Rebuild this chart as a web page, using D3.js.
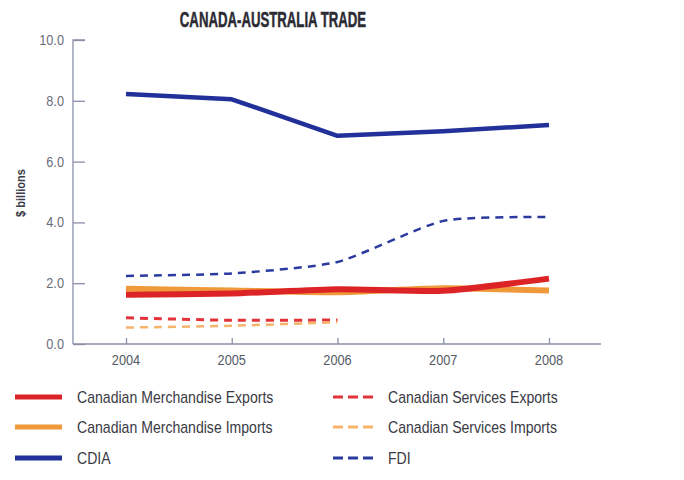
<!DOCTYPE html>
<html><head><meta charset="utf-8">
<script src="https://cdn.jsdelivr.net/npm/d3@7"></script>
<style>body{margin:0;background:#fff}svg{display:block}</style>
</head><body>
<svg id="c" width="684" height="480"></svg>
<script>
const years = [2004, 2005, 2006, 2007, 2008];
const yTicks = [0, 2, 4, 6, 8, 10];
const merchExports = [1.62, 1.66, 1.8, 1.75, 2.15];
const merchImports = [1.82, 1.76, 1.7, 1.83, 1.76];
const cdia = [8.22, 8.05, 6.85, 7.0, 7.2];
const servExports = [0.86, 0.78, 0.79];
const servImports = [0.54, 0.6, 0.72];
const fdi = [2.24, 2.32, 2.7, 4.05, 4.18];

const series = [
  {name:"Canadian Merchandise Exports", values: merchExports, color:"#dc2427", w:6, dash:null},
  {name:"Canadian Merchandise Imports", values: merchImports, color:"#f0993a", w:6, dash:null},
  {name:"CDIA", values: cdia, color:"#22309a", w:4.5, dash:null, linear:true},
  {name:"Canadian Services Exports", values: servExports, color:"#e2333a", w:3, dash:"8,6"},
  {name:"Canadian Services Imports", values: servImports, color:"#f6b36a", w:2.5, dash:"8,6"},
  {name:"FDI", values: fdi, color:"#2a3a9e", w:2.5, dash:"8,6"}
];
const drawOrder = [5, 3, 4, 1, 0, 2];

const svg = d3.select("#c");
const x = d3.scaleLinear().domain([2004, 2008]).range([126, 549]);
const y = d3.scaleLinear().domain([0, 10]).range([344, 40]);
const axisColor = "#8a8fa8";
const font = "'Liberation Sans',Arial,sans-serif";

function txt(g, tx, ty, sx, s, anchor) {
  return g.append("text").attr("transform", `translate(${tx},${ty}) scale(${sx},1)`)
    .attr("text-anchor", anchor || "start").attr("font-family", font).text(s);
}

txt(svg, 273, 27, 0.6, "CANADA-AUSTRALIA TRADE", "middle")
  .attr("font-weight","bold").attr("font-size", 22).attr("fill","#2b2b33")
  .attr("stroke","#2b2b33").attr("stroke-width",0.5);

// y axis
const yAxis = d3.axisRight(y).tickValues(yTicks).tickSize(12).tickFormat("");
const gy = svg.append("g").attr("transform","translate(73,0)").call(yAxis);
gy.selectAll("path,line").attr("stroke", axisColor).attr("stroke-width",1.3);
gy.select(".domain").attr("d", `M12,${y(10)}H0V${y(0)}`);
yTicks.forEach(d => {
  txt(svg, 64, y(d) + 5, 0.85, d3.format(".1f")(d), "end")
    .attr("font-size", 15).attr("fill","#6a6e7a");
});

// x axis
const xAxis = d3.axisTop(x).tickValues(years).tickSize(6).tickFormat("");
const gx = svg.append("g").attr("transform","translate(0,344)").call(xAxis);
gx.selectAll("path,line").attr("stroke", axisColor).attr("stroke-width",1.3);
gx.select(".domain").attr("d", `M73,0H601`);
years.forEach(d => {
  txt(svg, x(d), 365, 0.85, String(d), "middle")
    .attr("font-size", 15).attr("fill","#555a66");
});

txt(svg, 25, 193, 0.85, "$ billions", "middle")
  .attr("transform", "translate(25,193) rotate(-90) scale(0.85,1)")
  .attr("font-weight","bold").attr("font-size", 13).attr("fill","#3a3a48");

const lineSmooth = d3.line().x((d,i) => x(years[i])).y(d => y(d)).curve(d3.curveCardinal.tension(0.4));
const lineStraight = d3.line().x((d,i) => x(years[i])).y(d => y(d));
drawOrder.forEach(k => {
  const s = series[k];
  svg.append("path").attr("d", (s.linear ? lineStraight : lineSmooth)(s.values)).attr("fill","none")
    .attr("stroke", s.color).attr("stroke-width", s.w)
    .attr("stroke-dasharray", s.dash).attr("stroke-linecap", "butt")
    .attr("stroke-linejoin","round");
});

// legend
const legPos = [[15,77,397],[15,77,427],[15,77,458],[333,388,397],[333,388,427],[333,388,458]];
series.forEach((s,i) => {
  const [sx, tx, ly] = legPos[i];
  svg.append("line").attr("x1", sx).attr("x2", sx + (s.dash ? 40 : 47)).attr("y1", ly).attr("y2", ly)
    .attr("stroke", s.color).attr("stroke-width", s.dash ? 3 : 5).attr("stroke-dasharray", s.dash ? "10,5" : null);
  txt(svg, tx, ly + 6, 0.88, s.name).attr("font-size", 16).attr("fill","#3a3a44");
});
</script>
</body></html>
